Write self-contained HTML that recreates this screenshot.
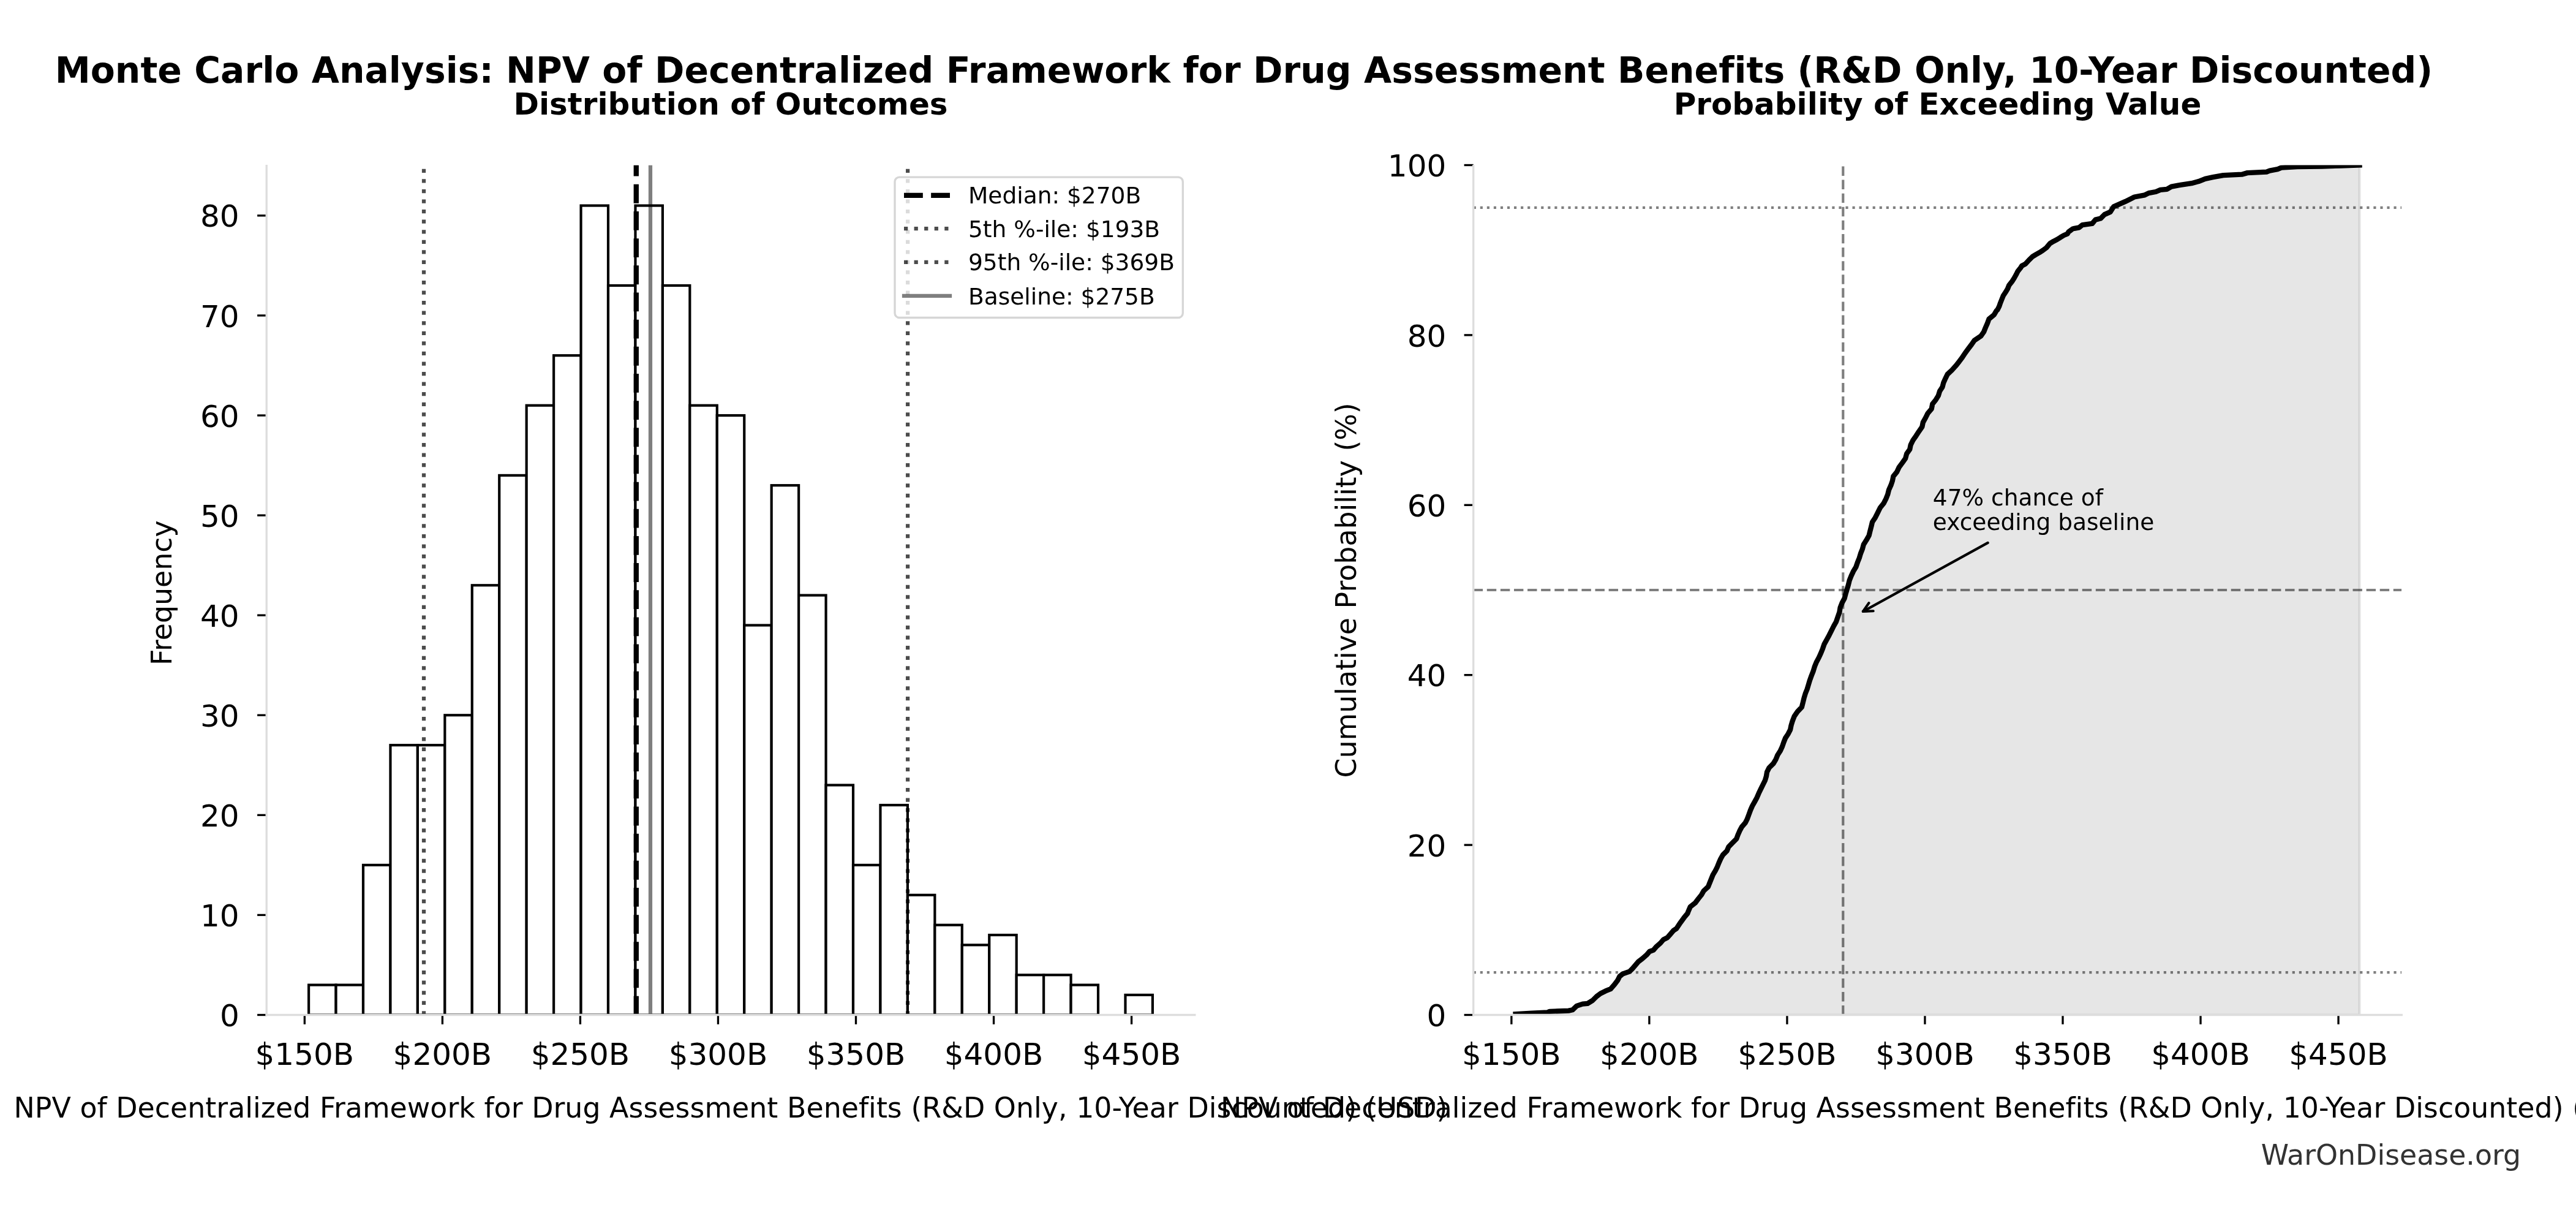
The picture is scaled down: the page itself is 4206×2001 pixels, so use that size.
<!DOCTYPE html>
<html><head><meta charset="utf-8"><title>Monte Carlo Analysis</title><style>html,body{margin:0;padding:0;background:#fff;}body{width:4206px;height:2001px;overflow:hidden;}svg{display:block;will-change:transform;}</style></head><body>
<svg width="4206" height="2001" viewBox="0 0 4206 2001" font-family="'DejaVu Sans', 'Liberation Sans', sans-serif" style="font-variant-ligatures:none">
<rect x="0" y="0" width="4206" height="2001" fill="#ffffff"/>
<defs><clipPath id="cl"><rect x="435.2" y="269.5" width="1515.6" height="1387"/></clipPath><clipPath id="cr"><rect x="2405.7" y="269.5" width="1515.6" height="1387"/></clipPath></defs>
<text x="89.65" y="135.3" font-size="58.33" font-weight="bold" textLength="3882.4" lengthAdjust="spacing">Monte Carlo Analysis: NPV of Decentralized Framework for Drug Assessment Benefits (R&amp;D Only, 10-Year Discounted)</text>
<text x="1193" y="186.8" font-size="50" font-weight="bold" text-anchor="middle">Distribution of Outcomes</text>
<text x="3163.5" y="186.8" font-size="50" font-weight="bold" text-anchor="middle">Probability of Exceeding Value</text>
<g clip-path="url(#cl)">
<rect x="504.1" y="1607.58" width="44.45" height="48.92" fill="#ffffff" stroke="#000000" stroke-width="4.17"/>
<rect x="548.55" y="1607.58" width="44.45" height="48.92" fill="#ffffff" stroke="#000000" stroke-width="4.17"/>
<rect x="592.99" y="1411.88" width="44.45" height="244.62" fill="#ffffff" stroke="#000000" stroke-width="4.17"/>
<rect x="637.44" y="1216.18" width="44.45" height="440.32" fill="#ffffff" stroke="#000000" stroke-width="4.17"/>
<rect x="681.88" y="1216.18" width="44.45" height="440.32" fill="#ffffff" stroke="#000000" stroke-width="4.17"/>
<rect x="726.33" y="1167.26" width="44.45" height="489.24" fill="#ffffff" stroke="#000000" stroke-width="4.17"/>
<rect x="770.77" y="955.25" width="44.45" height="701.25" fill="#ffffff" stroke="#000000" stroke-width="4.17"/>
<rect x="815.22" y="775.87" width="44.45" height="880.63" fill="#ffffff" stroke="#000000" stroke-width="4.17"/>
<rect x="859.66" y="661.71" width="44.45" height="994.79" fill="#ffffff" stroke="#000000" stroke-width="4.17"/>
<rect x="904.11" y="580.17" width="44.45" height="1076.33" fill="#ffffff" stroke="#000000" stroke-width="4.17"/>
<rect x="948.55" y="335.55" width="44.45" height="1320.95" fill="#ffffff" stroke="#000000" stroke-width="4.17"/>
<rect x="993" y="466.01" width="44.45" height="1190.49" fill="#ffffff" stroke="#000000" stroke-width="4.17"/>
<rect x="1037.44" y="335.55" width="44.45" height="1320.95" fill="#ffffff" stroke="#000000" stroke-width="4.17"/>
<rect x="1081.89" y="466.01" width="44.45" height="1190.49" fill="#ffffff" stroke="#000000" stroke-width="4.17"/>
<rect x="1126.33" y="661.71" width="44.45" height="994.79" fill="#ffffff" stroke="#000000" stroke-width="4.17"/>
<rect x="1170.78" y="678.02" width="44.45" height="978.48" fill="#ffffff" stroke="#000000" stroke-width="4.17"/>
<rect x="1215.22" y="1020.49" width="44.45" height="636.01" fill="#ffffff" stroke="#000000" stroke-width="4.17"/>
<rect x="1259.67" y="792.17" width="44.45" height="864.33" fill="#ffffff" stroke="#000000" stroke-width="4.17"/>
<rect x="1304.11" y="971.56" width="44.45" height="684.94" fill="#ffffff" stroke="#000000" stroke-width="4.17"/>
<rect x="1348.56" y="1281.41" width="44.45" height="375.09" fill="#ffffff" stroke="#000000" stroke-width="4.17"/>
<rect x="1393" y="1411.88" width="44.45" height="244.62" fill="#ffffff" stroke="#000000" stroke-width="4.17"/>
<rect x="1437.45" y="1314.03" width="44.45" height="342.47" fill="#ffffff" stroke="#000000" stroke-width="4.17"/>
<rect x="1481.89" y="1460.8" width="44.45" height="195.7" fill="#ffffff" stroke="#000000" stroke-width="4.17"/>
<rect x="1526.34" y="1509.73" width="44.45" height="146.77" fill="#ffffff" stroke="#000000" stroke-width="4.17"/>
<rect x="1570.78" y="1542.34" width="44.45" height="114.16" fill="#ffffff" stroke="#000000" stroke-width="4.17"/>
<rect x="1615.23" y="1526.04" width="44.45" height="130.46" fill="#ffffff" stroke="#000000" stroke-width="4.17"/>
<rect x="1659.67" y="1591.27" width="44.45" height="65.23" fill="#ffffff" stroke="#000000" stroke-width="4.17"/>
<rect x="1704.12" y="1591.27" width="44.45" height="65.23" fill="#ffffff" stroke="#000000" stroke-width="4.17"/>
<rect x="1748.56" y="1607.58" width="44.45" height="48.92" fill="#ffffff" stroke="#000000" stroke-width="4.17"/>
<rect x="1837.46" y="1623.88" width="44.45" height="32.62" fill="#ffffff" stroke="#000000" stroke-width="4.17"/>
<line x1="1038.78" y1="1656.5" x2="1038.78" y2="269.5" stroke="#000" stroke-width="8.33" stroke-dasharray="30.83 13.33"/>
<line x1="692.01" y1="1656.5" x2="692.01" y2="269.5" stroke="#000" stroke-width="6.25" stroke-opacity="0.7" stroke-dasharray="6.25 10.31"/>
<line x1="1482.1" y1="1656.5" x2="1482.1" y2="269.5" stroke="#000" stroke-width="6.25" stroke-opacity="0.7" stroke-dasharray="6.25 10.31"/>
<line x1="1061.96" y1="1656.5" x2="1061.96" y2="269.5" stroke="#000" stroke-width="6.25" stroke-opacity="0.5"/>
</g>
<line x1="497.35" y1="1656.5" x2="497.35" y2="1671.8" stroke="#000" stroke-width="3.33"/>
<text x="497.35" y="1738.3" font-size="50" text-anchor="middle">$150B</text>
<line x1="722.38" y1="1656.5" x2="722.38" y2="1671.8" stroke="#000" stroke-width="3.33"/>
<text x="722.38" y="1738.3" font-size="50" text-anchor="middle">$200B</text>
<line x1="947.42" y1="1656.5" x2="947.42" y2="1671.8" stroke="#000" stroke-width="3.33"/>
<text x="947.42" y="1738.3" font-size="50" text-anchor="middle">$250B</text>
<line x1="1172.45" y1="1656.5" x2="1172.45" y2="1671.8" stroke="#000" stroke-width="3.33"/>
<text x="1172.45" y="1738.3" font-size="50" text-anchor="middle">$300B</text>
<line x1="1397.49" y1="1656.5" x2="1397.49" y2="1671.8" stroke="#000" stroke-width="3.33"/>
<text x="1397.49" y="1738.3" font-size="50" text-anchor="middle">$350B</text>
<line x1="1622.53" y1="1656.5" x2="1622.53" y2="1671.8" stroke="#000" stroke-width="3.33"/>
<text x="1622.53" y="1738.3" font-size="50" text-anchor="middle">$400B</text>
<line x1="1847.56" y1="1656.5" x2="1847.56" y2="1671.8" stroke="#000" stroke-width="3.33"/>
<text x="1847.56" y="1738.3" font-size="50" text-anchor="middle">$450B</text>
<line x1="420.1" y1="1656.5" x2="435.2" y2="1656.5" stroke="#000" stroke-width="3.33"/>
<text x="390.7" y="1675.1" font-size="50" text-anchor="end">0</text>
<line x1="420.1" y1="1493.42" x2="435.2" y2="1493.42" stroke="#000" stroke-width="3.33"/>
<text x="390.7" y="1512.02" font-size="50" text-anchor="end">10</text>
<line x1="420.1" y1="1330.34" x2="435.2" y2="1330.34" stroke="#000" stroke-width="3.33"/>
<text x="390.7" y="1348.94" font-size="50" text-anchor="end">20</text>
<line x1="420.1" y1="1167.26" x2="435.2" y2="1167.26" stroke="#000" stroke-width="3.33"/>
<text x="390.7" y="1185.86" font-size="50" text-anchor="end">30</text>
<line x1="420.1" y1="1004.18" x2="435.2" y2="1004.18" stroke="#000" stroke-width="3.33"/>
<text x="390.7" y="1022.78" font-size="50" text-anchor="end">40</text>
<line x1="420.1" y1="841.1" x2="435.2" y2="841.1" stroke="#000" stroke-width="3.33"/>
<text x="390.7" y="859.7" font-size="50" text-anchor="end">50</text>
<line x1="420.1" y1="678.02" x2="435.2" y2="678.02" stroke="#000" stroke-width="3.33"/>
<text x="390.7" y="696.62" font-size="50" text-anchor="end">60</text>
<line x1="420.1" y1="514.94" x2="435.2" y2="514.94" stroke="#000" stroke-width="3.33"/>
<text x="390.7" y="533.54" font-size="50" text-anchor="end">70</text>
<line x1="420.1" y1="351.86" x2="435.2" y2="351.86" stroke="#000" stroke-width="3.33"/>
<text x="390.7" y="370.46" font-size="50" text-anchor="end">80</text>
<line x1="435.2" y1="1658.17" x2="435.2" y2="269.0" stroke="#dddddd" stroke-width="3.33"/>
<line x1="433.53" y1="1656.5" x2="1952.47" y2="1656.5" stroke="#dddddd" stroke-width="3.33"/>
<text x="22.5" y="1824.0" font-size="45.83" textLength="2341" lengthAdjust="spacing">NPV of Decentralized Framework for Drug Assessment Benefits (R&amp;D Only, 10-Year Discounted) (USD)</text>
<text transform="translate(279.9 967.7) rotate(-90)" x="0" y="0" font-size="45.83" text-anchor="middle">Frequency</text>
<rect x="1461" y="289.1" width="470.3" height="229.4" rx="7.5" ry="7.5" fill="#ffffff" fill-opacity="0.8" stroke="#cccccc" stroke-opacity="0.8" stroke-width="3.33"/>
<line x1="1476" y1="318.9" x2="1551" y2="318.9" stroke="#000" stroke-width="8.33" stroke-dasharray="30.83 13.33"/>
<text x="1581" y="332.1" font-size="37.5">Median: $270B</text>
<line x1="1476" y1="373" x2="1551" y2="373" stroke="#000" stroke-width="6.25" stroke-opacity="0.7" stroke-dasharray="6.25 10.31"/>
<text x="1581" y="386.6" font-size="37.5">5th %-ile: $193B</text>
<line x1="1476" y1="427.8" x2="1551" y2="427.8" stroke="#000" stroke-width="6.25" stroke-opacity="0.7" stroke-dasharray="6.25 10.31"/>
<text x="1581" y="441.3" font-size="37.5">95th %-ile: $369B</text>
<line x1="1476" y1="482.9" x2="1551" y2="482.9" stroke="#000" stroke-width="6.25" stroke-opacity="0.5" stroke-linecap="square"/>
<text x="1581" y="496.9" font-size="37.5">Baseline: $275B</text>
<g clip-path="url(#cr)">
<path d="M2474.6 1655.1 L2500.8 1653.7 L2526.9 1652.3 L2530.1 1650.9 L2561.1 1649.6 L2567.7 1648.2 L2574.19 1641.89 L2583.98 1638.63 L2592.14 1637.81 L2600.29 1632.92 L2606.82 1626.39 L2613.34 1621.5 L2621.5 1617.42 L2629.66 1614.16 L2636.18 1606.82 L2641.08 1600.29 L2644.34 1593.77 L2649.23 1589.69 L2660.65 1585.61 L2665.55 1580.72 L2670.44 1575.01 L2675.33 1569.3 L2681.86 1564.4 L2688.38 1558.69 L2693.28 1552.99 L2699.8 1550.54 L2704.7 1544.83 L2711.22 1539.12 L2716.12 1533.41 L2722.64 1530.15 L2727.54 1524.44 L2732.43 1518.73 L2737.32 1515.46 L2743.85 1505.68 L2750.38 1496.7 L2755.27 1491 L2756.96 1486.58 L2759.83 1480.05 L2768.05 1473.53 L2772.88 1467 L2778.1 1460.48 L2781.75 1453.96 L2788.93 1447.43 L2791.54 1440.91 L2794.15 1434.38 L2796.76 1427.86 L2800.67 1421.34 L2803.94 1414.81 L2806.54 1408.29 L2809.42 1401.76 L2813.07 1395.24 L2819.59 1388.72 L2822.46 1382.19 L2828.73 1375.67 L2835.25 1369.14 L2837.6 1362.62 L2840.47 1356.1 L2843.99 1349.57 L2849.6 1343.05 L2852.87 1336.52 L2855.53 1329.41 L2858.02 1322.48 L2861.07 1315.55 L2864.95 1308.62 L2868.69 1301.69 L2871.61 1294.76 L2874.93 1287.83 L2878.4 1280.9 L2881.86 1273.96 L2883.94 1267.03 L2885.05 1260.1 L2888.52 1253.17 L2895.45 1246.24 L2899.61 1239.31 L2902.38 1232.38 L2906.81 1225.45 L2910 1218.52 L2912.36 1211.59 L2915.13 1204.65 L2919.71 1197.72 L2923.17 1190.79 L2924.56 1183.86 L2926.64 1176.93 L2929.81 1168.77 L2934.95 1161.43 L2941.85 1154.09 L2943.75 1146.76 L2945.52 1139.42 L2947.72 1132.08 L2950.65 1124.74 L2952.85 1117.41 L2955.05 1110.07 L2957.7 1102.73 L2960.63 1095.39 L2962.83 1088.05 L2965.77 1080.72 L2969.73 1073.38 L2973.11 1066.04 L2976.04 1058.7 L2978.54 1051.36 L2982.64 1044.03 L2986.61 1036.69 L2990.28 1029.35 L2993.94 1022.01 L2998.05 1014.68 L3000.55 1007.34 L3003.5 998.77 L3004.68 991.43 L3007.61 984.09 L3011.57 976.76 L3013.48 969.42 L3015.68 962.08 L3017.88 954.74 L3019.64 947.41 L3022.58 940.07 L3025.96 932.73 L3030.36 925.39 L3032.85 918.05 L3035.79 910.72 L3037.99 903.38 L3040.92 896.04 L3042.83 888.7 L3047.53 881.36 L3051.64 874.03 L3053.4 866.69 L3055.31 859.35 L3057.07 852.01 L3061.91 844.68 L3065.58 837.34 L3069.81 828.77 L3075.68 821.43 L3079.35 814.09 L3082.29 806.76 L3084.05 799.42 L3087.42 792.08 L3089.92 784.74 L3091.39 777.41 L3097.26 770.07 L3100.63 762.73 L3106.06 755.39 L3111.2 748.05 L3113.11 740.72 L3118.24 733.38 L3119.71 726.04 L3123.38 718.7 L3128.51 711.36 L3133.21 704.03 L3138.35 696.69 L3139.82 689.35 L3143.92 682.01 L3147.59 674.68 L3153.76 667.34 L3155.25 659.41 L3160.79 652.48 L3164.95 645.55 L3167.03 638.62 L3171.47 631.69 L3173.27 624.76 L3176.32 617.83 L3179.78 610.9 L3187.13 603.96 L3193.37 597.03 L3198.91 590.1 L3204.04 583.17 L3208.62 576.24 L3213.75 569.31 L3219.01 562.38 L3223.86 555.45 L3234.26 548.52 L3239.11 541.59 L3241.89 534.65 L3244.93 527.72 L3247.43 520.79 L3255.75 513.86 L3259.91 506.93 L3261.42 505.63 L3264.28 499.92 L3266.22 494.21 L3268.5 488.5 L3270.79 482.79 L3274.55 477.08 L3277.98 471.37 L3280.26 465.66 L3284.83 459.95 L3288.49 454.23 L3291.69 448.52 L3294.54 442.81 L3299.11 437.1 L3301.39 433.68 L3307.1 430.82 L3312.81 424.54 L3318.52 418.83 L3324.23 415.4 L3329.95 412.21 L3335.66 408.55 L3341.37 404.21 L3347.08 397.36 L3352.79 393.93 L3358.5 391.08 L3364.21 387.42 L3369.92 384 L3375.63 381.71 L3377.55 378.44 L3380 376.64 L3384.24 373.46 L3386.92 372.81 L3394.84 371.33 L3400.15 367.09 L3416.05 364.97 L3421.35 358.61 L3429.84 356.49 L3436.2 350.13 L3445.74 345.89 L3451.04 337.4 L3460.59 333.16 L3470.13 328.92 L3478.61 324.68 L3484.97 321.5 L3501.94 318.32 L3508.3 315.14 L3519.96 313.02 L3527.39 309.84 L3537.99 308.78 L3545.41 304.53 L3560.26 301.88 L3578.28 299.23 L3589.95 296.05 L3600.55 291.81 L3613.27 289.16 L3630.09 286.15 L3660.37 284.64 L3669.45 282.12 L3700.74 280.6 L3705.79 278.59 L3718.91 276.06 L3724.97 273.54 L3751.21 272.02 L3791.58 271.52 L3821.86 270.51 L3852.6 269.5 L3852.6 1656.5 L2474.6 1656.5 Z" fill="#808080" fill-opacity="0.2" stroke="#808080" stroke-opacity="0.2" stroke-width="4.17"/>
<line x1="2405.7" y1="1587.15" x2="3921.3" y2="1587.15" stroke="#000" stroke-opacity="0.5" stroke-width="4.17" stroke-dasharray="4.17 6.88"/>
<line x1="2405.7" y1="338.85" x2="3921.3" y2="338.85" stroke="#000" stroke-opacity="0.5" stroke-width="4.17" stroke-dasharray="4.17 6.88"/>
<line x1="2405.7" y1="963" x2="3921.3" y2="963" stroke="#000" stroke-opacity="0.5" stroke-width="4.17" stroke-dasharray="15.42 6.67"/>
<line x1="3009.28" y1="1656.5" x2="3009.28" y2="269.5" stroke="#000" stroke-opacity="0.5" stroke-width="4.17" stroke-dasharray="15.42 6.67"/>
<path d="M2474.6 1655.1 L2500.8 1653.7 L2526.9 1652.3 L2530.1 1650.9 L2561.1 1649.6 L2567.7 1648.2 L2574.19 1641.89 L2583.98 1638.63 L2592.14 1637.81 L2600.29 1632.92 L2606.82 1626.39 L2613.34 1621.5 L2621.5 1617.42 L2629.66 1614.16 L2636.18 1606.82 L2641.08 1600.29 L2644.34 1593.77 L2649.23 1589.69 L2660.65 1585.61 L2665.55 1580.72 L2670.44 1575.01 L2675.33 1569.3 L2681.86 1564.4 L2688.38 1558.69 L2693.28 1552.99 L2699.8 1550.54 L2704.7 1544.83 L2711.22 1539.12 L2716.12 1533.41 L2722.64 1530.15 L2727.54 1524.44 L2732.43 1518.73 L2737.32 1515.46 L2743.85 1505.68 L2750.38 1496.7 L2755.27 1491 L2756.96 1486.58 L2759.83 1480.05 L2768.05 1473.53 L2772.88 1467 L2778.1 1460.48 L2781.75 1453.96 L2788.93 1447.43 L2791.54 1440.91 L2794.15 1434.38 L2796.76 1427.86 L2800.67 1421.34 L2803.94 1414.81 L2806.54 1408.29 L2809.42 1401.76 L2813.07 1395.24 L2819.59 1388.72 L2822.46 1382.19 L2828.73 1375.67 L2835.25 1369.14 L2837.6 1362.62 L2840.47 1356.1 L2843.99 1349.57 L2849.6 1343.05 L2852.87 1336.52 L2855.53 1329.41 L2858.02 1322.48 L2861.07 1315.55 L2864.95 1308.62 L2868.69 1301.69 L2871.61 1294.76 L2874.93 1287.83 L2878.4 1280.9 L2881.86 1273.96 L2883.94 1267.03 L2885.05 1260.1 L2888.52 1253.17 L2895.45 1246.24 L2899.61 1239.31 L2902.38 1232.38 L2906.81 1225.45 L2910 1218.52 L2912.36 1211.59 L2915.13 1204.65 L2919.71 1197.72 L2923.17 1190.79 L2924.56 1183.86 L2926.64 1176.93 L2929.81 1168.77 L2934.95 1161.43 L2941.85 1154.09 L2943.75 1146.76 L2945.52 1139.42 L2947.72 1132.08 L2950.65 1124.74 L2952.85 1117.41 L2955.05 1110.07 L2957.7 1102.73 L2960.63 1095.39 L2962.83 1088.05 L2965.77 1080.72 L2969.73 1073.38 L2973.11 1066.04 L2976.04 1058.7 L2978.54 1051.36 L2982.64 1044.03 L2986.61 1036.69 L2990.28 1029.35 L2993.94 1022.01 L2998.05 1014.68 L3000.55 1007.34 L3003.5 998.77 L3004.68 991.43 L3007.61 984.09 L3011.57 976.76 L3013.48 969.42 L3015.68 962.08 L3017.88 954.74 L3019.64 947.41 L3022.58 940.07 L3025.96 932.73 L3030.36 925.39 L3032.85 918.05 L3035.79 910.72 L3037.99 903.38 L3040.92 896.04 L3042.83 888.7 L3047.53 881.36 L3051.64 874.03 L3053.4 866.69 L3055.31 859.35 L3057.07 852.01 L3061.91 844.68 L3065.58 837.34 L3069.81 828.77 L3075.68 821.43 L3079.35 814.09 L3082.29 806.76 L3084.05 799.42 L3087.42 792.08 L3089.92 784.74 L3091.39 777.41 L3097.26 770.07 L3100.63 762.73 L3106.06 755.39 L3111.2 748.05 L3113.11 740.72 L3118.24 733.38 L3119.71 726.04 L3123.38 718.7 L3128.51 711.36 L3133.21 704.03 L3138.35 696.69 L3139.82 689.35 L3143.92 682.01 L3147.59 674.68 L3153.76 667.34 L3155.25 659.41 L3160.79 652.48 L3164.95 645.55 L3167.03 638.62 L3171.47 631.69 L3173.27 624.76 L3176.32 617.83 L3179.78 610.9 L3187.13 603.96 L3193.37 597.03 L3198.91 590.1 L3204.04 583.17 L3208.62 576.24 L3213.75 569.31 L3219.01 562.38 L3223.86 555.45 L3234.26 548.52 L3239.11 541.59 L3241.89 534.65 L3244.93 527.72 L3247.43 520.79 L3255.75 513.86 L3259.91 506.93 L3261.42 505.63 L3264.28 499.92 L3266.22 494.21 L3268.5 488.5 L3270.79 482.79 L3274.55 477.08 L3277.98 471.37 L3280.26 465.66 L3284.83 459.95 L3288.49 454.23 L3291.69 448.52 L3294.54 442.81 L3299.11 437.1 L3301.39 433.68 L3307.1 430.82 L3312.81 424.54 L3318.52 418.83 L3324.23 415.4 L3329.95 412.21 L3335.66 408.55 L3341.37 404.21 L3347.08 397.36 L3352.79 393.93 L3358.5 391.08 L3364.21 387.42 L3369.92 384 L3375.63 381.71 L3377.55 378.44 L3380 376.64 L3384.24 373.46 L3386.92 372.81 L3394.84 371.33 L3400.15 367.09 L3416.05 364.97 L3421.35 358.61 L3429.84 356.49 L3436.2 350.13 L3445.74 345.89 L3451.04 337.4 L3460.59 333.16 L3470.13 328.92 L3478.61 324.68 L3484.97 321.5 L3501.94 318.32 L3508.3 315.14 L3519.96 313.02 L3527.39 309.84 L3537.99 308.78 L3545.41 304.53 L3560.26 301.88 L3578.28 299.23 L3589.95 296.05 L3600.55 291.81 L3613.27 289.16 L3630.09 286.15 L3660.37 284.64 L3669.45 282.12 L3700.74 280.6 L3705.79 278.59 L3718.91 276.06 L3724.97 273.54 L3751.21 272.02 L3791.58 271.52 L3821.86 270.51 L3852.6 269.5" fill="none" stroke="#000" stroke-width="8.33" stroke-linecap="square" stroke-linejoin="round"/>
</g>
<text x="3155.8" y="825.4" font-size="37.5">47% chance of</text>
<text x="3155.8" y="865.1" font-size="37.5">exceeding baseline</text>
<line x1="3245.7" y1="885.9" x2="3041.9" y2="997.9" stroke="#000" stroke-width="4.17" stroke-linecap="round"/>
<path d="M3058.66 997.25 L3041.9 997.9 L3051.43 984.1" fill="none" stroke="#000" stroke-width="4.17" stroke-linecap="round" stroke-linejoin="round"/>
<line x1="2467.85" y1="1656.5" x2="2467.85" y2="1671.8" stroke="#000" stroke-width="3.33"/>
<text x="2467.85" y="1738.3" font-size="50" text-anchor="middle">$150B</text>
<line x1="2692.89" y1="1656.5" x2="2692.89" y2="1671.8" stroke="#000" stroke-width="3.33"/>
<text x="2692.89" y="1738.3" font-size="50" text-anchor="middle">$200B</text>
<line x1="2917.92" y1="1656.5" x2="2917.92" y2="1671.8" stroke="#000" stroke-width="3.33"/>
<text x="2917.92" y="1738.3" font-size="50" text-anchor="middle">$250B</text>
<line x1="3142.95" y1="1656.5" x2="3142.95" y2="1671.8" stroke="#000" stroke-width="3.33"/>
<text x="3142.95" y="1738.3" font-size="50" text-anchor="middle">$300B</text>
<line x1="3367.99" y1="1656.5" x2="3367.99" y2="1671.8" stroke="#000" stroke-width="3.33"/>
<text x="3367.99" y="1738.3" font-size="50" text-anchor="middle">$350B</text>
<line x1="3593.03" y1="1656.5" x2="3593.03" y2="1671.8" stroke="#000" stroke-width="3.33"/>
<text x="3593.03" y="1738.3" font-size="50" text-anchor="middle">$400B</text>
<line x1="3818.06" y1="1656.5" x2="3818.06" y2="1671.8" stroke="#000" stroke-width="3.33"/>
<text x="3818.06" y="1738.3" font-size="50" text-anchor="middle">$450B</text>
<line x1="2390.6" y1="1656.5" x2="2405.7" y2="1656.5" stroke="#000" stroke-width="3.33"/>
<text x="2361.3" y="1675.1" font-size="50" text-anchor="end">0</text>
<line x1="2390.6" y1="1379.1" x2="2405.7" y2="1379.1" stroke="#000" stroke-width="3.33"/>
<text x="2361.3" y="1397.7" font-size="50" text-anchor="end">20</text>
<line x1="2390.6" y1="1101.7" x2="2405.7" y2="1101.7" stroke="#000" stroke-width="3.33"/>
<text x="2361.3" y="1120.3" font-size="50" text-anchor="end">40</text>
<line x1="2390.6" y1="824.3" x2="2405.7" y2="824.3" stroke="#000" stroke-width="3.33"/>
<text x="2361.3" y="842.9" font-size="50" text-anchor="end">60</text>
<line x1="2390.6" y1="546.9" x2="2405.7" y2="546.9" stroke="#000" stroke-width="3.33"/>
<text x="2361.3" y="565.5" font-size="50" text-anchor="end">80</text>
<line x1="2390.6" y1="269.5" x2="2405.7" y2="269.5" stroke="#000" stroke-width="3.33"/>
<text x="2361.3" y="288.1" font-size="50" text-anchor="end">100</text>
<line x1="2405.7" y1="1658.17" x2="2405.7" y2="269.0" stroke="#dddddd" stroke-width="3.33"/>
<line x1="2404.03" y1="1656.5" x2="3922.97" y2="1656.5" stroke="#dddddd" stroke-width="3.33"/>
<text x="1993" y="1824.0" font-size="45.83" textLength="2341" lengthAdjust="spacing">NPV of Decentralized Framework for Drug Assessment Benefits (R&amp;D Only, 10-Year Discounted) (USD)</text>
<text transform="translate(2213.5 963.4) rotate(-90)" x="0" y="0" font-size="45.83" text-anchor="middle">Cumulative Probability (%)</text>
<text x="3691.7" y="1901.2" font-size="45.83" fill="#333333">WarOnDisease.org</text>
</svg>
</body></html>
